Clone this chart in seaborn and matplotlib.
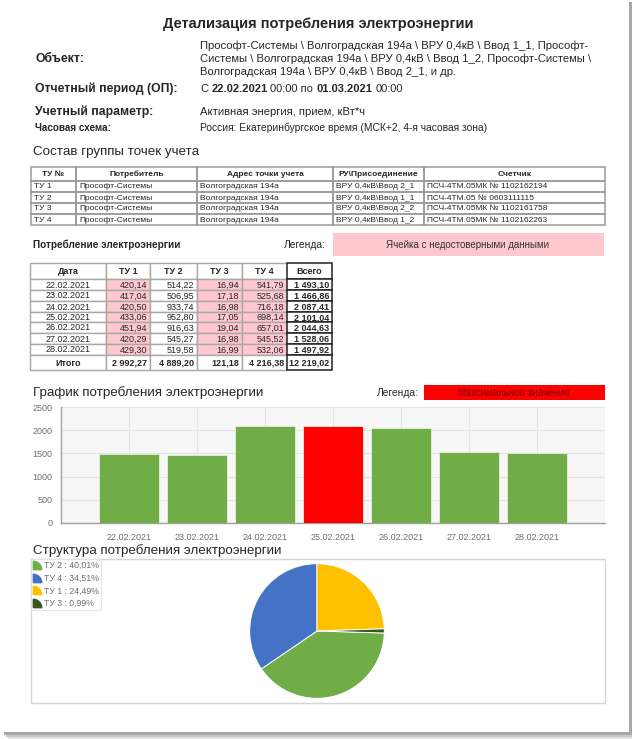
import matplotlib
matplotlib.use("Agg")
import matplotlib.pyplot as plt
import seaborn as sns
import numpy as np
import pandas as pd
from matplotlib.patches import Rectangle
from matplotlib.lines import Line2D
from matplotlib.path import Path

dates = ["22.02.2021", "23.02.2021", "24.02.2021", "25.02.2021",
         "26.02.2021", "27.02.2021", "28.02.2021"]
tu1 = [420.14, 417.04, 420.50, 433.06, 451.94, 420.29, 429.30]
tu2 = [514.22, 506.95, 933.74, 952.80, 916.63, 545.27, 519.58]
tu3 = [16.94, 17.18, 16.98, 17.05, 19.04, 16.98, 16.99]
tu4 = [541.79, 525.68, 716.18, 698.14, 657.01, 545.52, 532.06]
total_day = [1493.10, 1466.86, 2087.41, 2101.04, 2044.63, 1528.06, 1497.92]
total_tu = [2992.27, 4889.20, 121.18, 4216.38]
grand_total = 12219.02

pie_labels = ["ТУ 2", "ТУ 4", "ТУ 1", "ТУ 3"]
pie_share = [40.01, 34.51, 24.49, 0.99]
pie_colors = ["#70ad47", "#4472c4", "#ffc000", "#375623"]

points_header = ["ТУ №", "Потребитель", "Адрес точки учета", "РУ\\Присоединение", "Счетчик"]
points_rows = [
    ["ТУ 1", "Прософт-Системы", "Волгоградская 194а", "ВРУ 0,4кВ\\Ввод 2_1", "ПСЧ-4ТМ.05МК № 1102162194"],
    ["ТУ 2", "Прософт-Системы", "Волгоградская 194а", "ВРУ 0,4кВ\\Ввод 1_1", "ПСЧ-4ТМ.05 № 0603111115"],
    ["ТУ 3", "Прософт-Системы", "Волгоградская 194а", "ВРУ 0,4кВ\\Ввод 2_2", "ПСЧ-4ТМ.05МК № 1102161758"],
    ["ТУ 4", "Прософт-Системы", "Волгоградская 194а", "ВРУ 0,4кВ\\Ввод 1_2", "ПСЧ-4ТМ.05МК № 1102162263"],
]
cons_header = ["Дата", "ТУ 1", "ТУ 2", "ТУ 3", "ТУ 4", "Всего"]
bad_columns = [1, 3, 4]  # columns with unreliable data (pink)

object_lines = [
    "Прософт-Системы \\ Волгоградская 194а \\ ВРУ 0,4кВ \\ Ввод 1_1, Прософт-",
    "Системы \\ Волгоградская 194а \\ ВРУ 0,4кВ \\ Ввод 1_2, Прософт-Системы \\",
    "Волгоградская 194а \\ ВРУ 0,4кВ \\ Ввод 2_1, и др.",
]

GREEN = "#70ad47"
RED = "#ff0000"
PINK = "#ffc7ce"
GRAY_TXT = "#6e6e6e"


def ru(v):
    return f"{v:,.2f}".replace(",", " ").replace(".", ",")


sns.set_style("white")
plt.rcParams["font.family"] = ["Liberation Sans", "DejaVu Sans"]

W, H = 637, 739
fig = plt.figure(figsize=(W / 100, H / 100), dpi=100)
fig.patch.set_facecolor("white")

# overlay axes in pixel coordinates for the page, texts and tables
ov = fig.add_axes([0, 0, 1, 1])
ov.set_xlim(0, W)
ov.set_ylim(H, 0)
ov.axis("off")

# page with a drop shadow
for off, c in [(8, "#e4e4e4"), (6, "#c8c8c8"), (4, "#a8a8a8")]:
    ov.add_patch(Rectangle((off, off - 2), 630 - off + 2, 733, color=c, lw=0))
ov.add_patch(Rectangle((0, 0), 629, 732, color="white", lw=0))

renderer = fig.canvas.get_renderer()


def rich_text(x, y, parts, size):
    probe1 = ov.text(0, 0, "x x", fontsize=size)
    probe2 = ov.text(0, 0, "xx", fontsize=size)
    space = (probe1.get_window_extent(renderer).width
             - probe2.get_window_extent(renderer).width)
    probe1.remove()
    probe2.remove()
    for s, weight in parts:
        t = ov.text(x, y, s, fontsize=size, fontweight=weight, va="center", ha="left")
        x += t.get_window_extent(renderer).width + space


# ---- header block
ov.text(318, 24, "Детализация потребления электроэнергии", fontsize=10.5,
        fontweight="bold", ha="center", va="center")
ov.text(35, 59, "Объект:", fontsize=8.8, fontweight="bold", va="center")
for i, line in enumerate(object_lines):
    ov.text(200, 45.5 + 13.4 * i, line, fontsize=8.1, va="center")
ov.text(35, 89, "Отчетный период (ОП):", fontsize=8.8, fontweight="bold", va="center")
rich_text(200, 89, [("С", "normal"), ("22.02.2021", "bold"), ("00:00 по", "normal"),
                    ("01.03.2021", "bold"), ("00:00", "normal")], 8.0)
ov.text(35, 112, "Учетный параметр:", fontsize=8.8, fontweight="bold", va="center")
ov.text(200, 112, "Активная энергия, прием, кВт*ч", fontsize=8.1, va="center")
ov.text(35, 128, "Часовая схема:", fontsize=7.1, fontweight="bold", va="center")
ov.text(200, 128, "Россия: Екатеринбургское время (МСК+2, 4-я часовая зона)",
        fontsize=7.4, va="center")

# ---- table of metering points
ov.text(33, 152, "Состав группы точек учета", fontsize=9.6, va="center")
t1_x = [31, 76, 197, 333, 424, 605]
t1_y = [167, 181, 192, 203, 214, 225]
for r in range(len(t1_y) - 1):
    cells = points_header if r == 0 else points_rows[r - 1]
    for c in range(len(t1_x) - 1):
        x0, x1 = t1_x[c], t1_x[c + 1]
        y0, y1 = t1_y[r], t1_y[r + 1]
        ov.add_patch(Rectangle((x0, y0), x1 - x0, y1 - y0, fill=False,
                               ec="#9a9a9a", lw=1.1))
        if r == 0:
            ov.text((x0 + x1) / 2, (y0 + y1) / 2, cells[c], fontsize=6.0,
                    fontweight="bold", ha="center", va="center")
        else:
            ov.text(x0 + 3, (y0 + y1) / 2 + 0.5, cells[c], fontsize=6.0,
                    ha="left", va="center")

# ---- consumption table
ov.text(33, 245, "Потребление электроэнергии", fontsize=7.2, fontweight="bold", va="center")
ov.text(326, 245, "Легенда:", fontsize=7.4, ha="right", va="center")
ov.add_patch(Rectangle((333, 233), 271, 23, color=PINK, lw=0))
ov.text(468, 244.5, "Ячейка с недостоверными данными", fontsize=7, ha="center",
        va="center", color="#333333")

t2_x = [30, 106, 150, 197, 242, 287, 332]
t2_y = [263, 279, 290, 301, 312, 322, 333, 344, 355, 370]
day_cols = [tu1, tu2, tu3, tu4, total_day]
sum_row = ["Итого"] + [ru(v) for v in total_tu] + [ru(grand_total)]
FS2 = 6.5
for r in range(len(t2_y) - 1):
    y0, y1 = t2_y[r], t2_y[r + 1]
    ym = (y0 + y1) / 2 + 0.5
    for c in range(len(t2_x) - 1):
        x0, x1 = t2_x[c], t2_x[c + 1]
        is_data = 0 < r < len(t2_y) - 2
        fc = PINK if (is_data and c in bad_columns) else "white"
        last = c == len(t2_x) - 2
        ov.add_patch(Rectangle((x0, y0), x1 - x0, y1 - y0, fc=fc,
                               ec="#222222" if last else "#a8a8a8",
                               lw=1.1 if last else 1.0, zorder=3 if last else 2))
        if r == 0:
            ov.text((x0 + x1) / 2, ym, cons_header[c], fontsize=FS2,
                    fontweight="bold", ha="center", va="center", zorder=4)
        elif r == len(t2_y) - 2:
            if c == 0:
                ov.text((x0 + x1) / 2, ym, sum_row[c], fontsize=FS2,
                        fontweight="bold", ha="center", va="center", zorder=4)
            else:
                ov.text(x1 - 3, ym, sum_row[c], fontsize=FS2, fontweight="bold",
                        ha="right", va="center", zorder=4)
        else:
            if c == 0:
                ov.text((x0 + x1) / 2, ym, dates[r - 1], fontsize=FS2,
                        ha="center", va="center", zorder=4)
            else:
                ov.text(x1 - 3, ym, ru(day_cols[c - 1][r - 1]), fontsize=FS2,
                        fontweight="bold" if last else "normal",
                        ha="right", va="center", zorder=4)

# ---- bar chart
ov.text(33, 392.5, "График потребления электроэнергии", fontsize=9.6, va="center")
ov.text(419, 392.5, "Легенда:", fontsize=7.4, ha="right", va="center")
ov.add_patch(Rectangle((424, 385), 181, 15, color=RED, lw=0))
ov.text(514, 392.5, "Максимальное значение", fontsize=7, ha="center",
        va="center", color="#800000")

axb = fig.add_axes([61 / W, 1 - 523 / H, 544 / W, 116 / H])
df = pd.DataFrame({"date": dates, "total": total_day})
bar_colors = [RED if v == max(total_day) else GREEN for v in total_day]
sns.barplot(data=df, x="date", y="total", hue="date", palette=bar_colors,
            saturation=1, legend=False, width=0.88, edgecolor="#e6efdf",
            linewidth=0.6, ax=axb, zorder=3)
axb.set_facecolor("#f7f7f7")
axb.set_xlim(-1, len(dates))
axb.set_ylim(0, 2500)
axb.set_xticks(range(-1, len(dates) + 1))
axb.set_xticklabels([""] + dates + [""])
axb.set_yticks(range(0, 2501, 500))
axb.set_xlabel("")
axb.set_ylabel("")
axb.grid(True, color="#e4e4e4", lw=0.8, zorder=0)
axb.set_axisbelow(True)
for s in ["top", "right"]:
    axb.spines[s].set_visible(False)
for s in ["left", "bottom"]:
    axb.spines[s].set_color("#a0a0a0")
    axb.spines[s].set_linewidth(1.0)
axb.tick_params(axis="both", colors="#a0a0a0", labelcolor=GRAY_TXT,
                labelsize=6.5, length=3, width=1.0)
axb.tick_params(axis="x", pad=4.5)
axb.tick_params(axis="y", pad=3)

# ---- pie chart
ov.text(33, 551, "Структура потребления электроэнергии", fontsize=9.6, va="center")
ov.add_patch(Rectangle((31, 559), 574, 144, fill=False, ec="#d6d6d6", lw=1.0))

axp = fig.add_axes([(317 - 68) / W, 1 - (631 + 68) / H, 136 / W, 136 / H])
axp.pie(pie_share, colors=pie_colors, startangle=-1.7, counterclock=False,
        wedgeprops=dict(edgecolor="white", linewidth=0.7))
axp.set_xlim(-1.01, 1.01)
axp.set_ylim(-1.01, 1.01)

ang = np.linspace(np.pi / 2, 0, 20)
verts = [(0, 0), (0, 1)] + [(np.cos(a), np.sin(a)) for a in ang[1:]] + [(0, 0)]
verts = [(vx - 0.5, vy - 0.5) for vx, vy in verts]
quarter = Path(verts)
handles = [Line2D([], [], ls="", marker=quarter, markersize=6,
                  markerfacecolor=c, markeredgecolor=c) for c in pie_colors]
labels = [f"{n} : {ru(p)}%" for n, p in zip(pie_labels, pie_share)]
leg = fig.legend(handles, labels, loc="upper left",
                 bbox_to_anchor=(31 / W, 1 - 559 / H), frameon=True,
                 fancybox=False, edgecolor="#e2e2e2", fontsize=6.3,
                 labelcolor=GRAY_TXT, handlelength=0.8, handletextpad=0.4,
                 labelspacing=0.42, borderpad=0.25, borderaxespad=0)
leg.get_frame().set_linewidth(0.8)

fig.savefig("out.png", dpi=100)
